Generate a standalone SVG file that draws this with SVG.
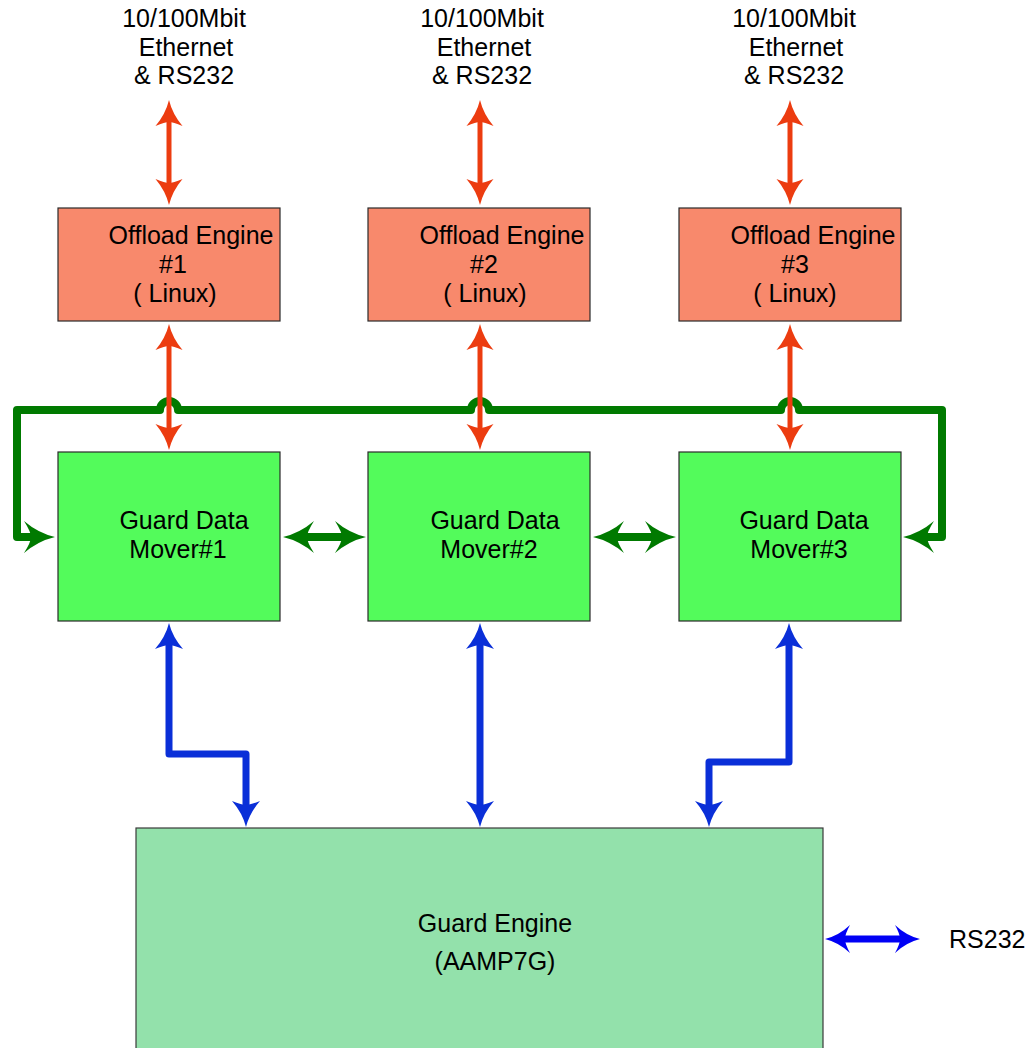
<svg xmlns="http://www.w3.org/2000/svg" width="1025" height="1048" viewBox="0 0 1025 1048">
  <style>
    text { font-family: "Liberation Sans", Arial, sans-serif; font-size: 25px; fill: #000; text-anchor: middle; }
    .offload { fill: #f8896c; stroke: #2a2a2a; stroke-width: 1.2; }
    .mover { fill: #53fb5b; stroke: #2a2a2a; stroke-width: 1.2; }
    .engine { fill: #93e1ab; stroke: #3a3a3a; stroke-width: 1.2; }
    .red { fill: none; stroke: #ec3c10; stroke-width: 5; marker-start: url(#hRed); marker-end: url(#hRed); }
    .green { fill: none; stroke: #007a00; stroke-width: 8; stroke-linejoin: round; marker-start: url(#hGreen); marker-end: url(#hGreen); }
    .blue { fill: none; stroke: #0a2fd8; stroke-width: 7; stroke-linejoin: round; marker-start: url(#hBlue); marker-end: url(#hBlue); }
    .blue2 { fill: none; stroke: #0000f5; stroke-width: 7; marker-start: url(#hBlue2); marker-end: url(#hBlue2); }
  </style>
  <defs>
    <!-- flared arrowheads; refX sits where the shaft meets the head -->
    <marker id="hRed" markerUnits="userSpaceOnUse" orient="auto-start-reverse" viewBox="0 -14 26 28" markerWidth="26" markerHeight="28" refX="4" refY="0" overflow="visible">
      <path d="M26,0 Q12,3.4 0,13.5 Q4,4 4,0 Q4,-4 0,-13.5 Q12,-3.4 26,0 Z" fill="#ec3c10"/>
    </marker>
    <marker id="hGreen" markerUnits="userSpaceOnUse" orient="auto-start-reverse" viewBox="0 -16 31 32" markerWidth="31" markerHeight="32" refX="7" refY="0" overflow="visible">
      <path d="M31,0 Q14,4 0,16 Q7,5 7,0 Q7,-5 0,-16 Q14,-4 31,0 Z" fill="#007a00"/>
    </marker>
    <marker id="hBlue" markerUnits="userSpaceOnUse" orient="auto-start-reverse" viewBox="0 -14 26 28" markerWidth="26" markerHeight="28" refX="4" refY="0" overflow="visible">
      <path d="M26,0 Q12,3.5 0,14 Q4,4 4,0 Q4,-4 0,-14 Q12,-3.5 26,0 Z" fill="#0a2fd8"/>
    </marker>
    <marker id="hBlue2" markerUnits="userSpaceOnUse" orient="auto-start-reverse" viewBox="0 -14 25 28" markerWidth="25" markerHeight="28" refX="5" refY="0" overflow="visible">
      <path d="M25,0 Q11,3.5 0,14 Q5,5 5,0 Q5,-5 0,-14 Q11,-3.5 25,0 Z" fill="#0000f5"/>
    </marker>
  </defs>

  <rect width="1025" height="1048" fill="#ffffff"/>

  <!-- external interface labels -->
  <g id="ext1">
    <text x="184" y="27">10/100Mbit</text>
    <text x="186" y="56">Ethernet</text>
    <text x="184" y="84">&amp; RS232</text>
  </g>
  <g id="ext2">
    <text x="482" y="27">10/100Mbit</text>
    <text x="484" y="56">Ethernet</text>
    <text x="482" y="84">&amp; RS232</text>
  </g>
  <g id="ext3">
    <text x="794" y="27">10/100Mbit</text>
    <text x="796" y="56">Ethernet</text>
    <text x="794" y="84">&amp; RS232</text>
  </g>

  <!-- offload engines -->
  <g id="offload1">
    <rect class="offload" x="58" y="208" width="222" height="113"/>
    <text x="191" y="244">Offload Engine</text>
    <text x="173" y="273">#1</text>
    <text x="175" y="302">( Linux)</text>
  </g>
  <g id="offload2">
    <rect class="offload" x="368" y="208" width="222" height="113"/>
    <text x="502" y="244">Offload Engine</text>
    <text x="484" y="273">#2</text>
    <text x="485" y="302">( Linux)</text>
  </g>
  <g id="offload3">
    <rect class="offload" x="679" y="208" width="222" height="113"/>
    <text x="813" y="244">Offload Engine</text>
    <text x="795" y="273">#3</text>
    <text x="795" y="302">( Linux)</text>
  </g>

  <!-- guard data movers -->
  <g id="mover1">
    <rect class="mover" x="58" y="452" width="222" height="169"/>
    <text x="184" y="529">Guard Data</text>
    <text x="178" y="558">Mover#1</text>
  </g>
  <g id="mover2">
    <rect class="mover" x="368" y="452" width="222" height="169"/>
    <text x="495" y="529">Guard Data</text>
    <text x="489" y="558">Mover#2</text>
  </g>
  <g id="mover3">
    <rect class="mover" x="679" y="452" width="222" height="169"/>
    <text x="804" y="529">Guard Data</text>
    <text x="799" y="558">Mover#3</text>
  </g>

  <!-- guard engine, runs off the bottom edge -->
  <g id="engine">
    <rect class="engine" x="136" y="828" width="687" height="240"/>
    <text x="495" y="932">Guard Engine</text>
    <text x="495" y="970">(AAMP7G)</text>
  </g>

  <g id="rs232">
    <text x="949" y="948" style="text-anchor:start">RS232</text>
  </g>

  <g id="connectors">
    <!-- ring bus across the movers, hopping over the offload links -->
    <path class="green" d="M31,537 L17,537 L17,410 L160,410 A9,9 0 0 1 178,410 L471,410 A9,9 0 0 1 489,410 L781,410 A9,9 0 0 1 799,410 L942,410 L942,537 L927,537"/>
    <path class="green" d="M307,537 L342,537"/>
    <path class="green" d="M617,537 L652,537"/>

    <!-- network side and offload-to-mover links -->
    <path class="red" d="M169,122 L169,183"/>
    <path class="red" d="M480,122 L480,183"/>
    <path class="red" d="M790,122 L790,183"/>
    <path class="red" d="M169,346 L169,428"/>
    <path class="red" d="M480,346 L480,428"/>
    <path class="red" d="M790,346 L790,428"/>

    <!-- mover-to-engine links -->
    <path class="blue" d="M169,645 L169,754 L246,754 L246,805"/>
    <path class="blue" d="M480,645 L480,805"/>
    <path class="blue" d="M789,645 L789,762 L709,762 L709,805"/>

    <!-- engine serial port -->
    <path class="blue2" d="M845,939 L900,939"/>
  </g>
</svg>
